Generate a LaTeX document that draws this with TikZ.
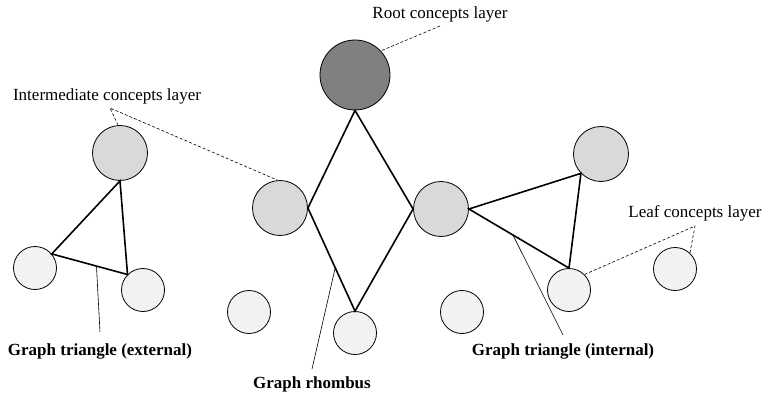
\documentclass[tikz,border=0pt]{standalone}
\usepackage{fontspec}
\setmainfont{Liberation Serif}
\usetikzlibrary{calc}
\definecolor{rootgray}{RGB}{128,128,128}
\definecolor{midgray}{RGB}{217,217,217}
\definecolor{leafgray}{RGB}{242,242,242}
\begin{document}
\begin{tikzpicture}[x=1pt,y=-1pt,
  concept/.style={circle,draw=black,line width=0.8pt,inner sep=0pt},
  rootc/.style={concept,fill=rootgray,minimum size=70pt},
  midc/.style={concept,fill=midgray,minimum size=55pt},
  leafc/.style={concept,fill=leafgray,minimum size=43pt},
  gedge/.style={line width=1.6pt},
  leader/.style={line width=0.6pt},
  guide/.style={line width=0.6pt,dash pattern=on 3pt off 2pt},
  lab/.style={font=\fontsize{17}{20}\selectfont,inner sep=0pt},
  blab/.style={font=\fontsize{17}{20}\selectfont\bfseries,inner sep=0pt}]
\useasboundingbox (0,0) rectangle (765,393);
% concept nodes
\node[rootc] (R) at (355,75) {};
\node[midc] (I1) at (120,153) {};
\node[midc] (I2) at (280,208) {};
\node[midc] (I3) at (441,209) {};
\node[midc] (I4) at (601,154) {};
\node[leafc] (L1) at (35,268) {};
\node[leafc] (L2) at (143,290) {};
\node[leafc] (L3) at (249,312) {};
\node[leafc] (L4) at (355,333) {};
\node[leafc] (L5) at (462,312) {};
\node[leafc] (L6) at (569,290) {};
\node[leafc] (L7) at (675,269) {};
% graph edges
\draw[gedge] (R.south) -- (I2.east) -- (L4.north) -- (I3.west) -- cycle;
\draw[gedge] (I1.south) -- (L1.40) -- (L2.135) -- cycle;
\draw[gedge] (I3.east) -- (I4.224) -- (L6.north) -- cycle;
% labels
\node[lab] (tRoot) at (440,14) {Root concepts layer};
\node[lab] (tInt) at (107,96) {Intermediate concepts layer};
\node[lab] (tLeaf) at (695,213) {Leaf concepts layer};
\node[blab] (tExt) at (100,351) {Graph triangle (external)};
\node[blab] (tRh) at (312,384) {Graph rhombus};
\node[blab] (tIn) at (563,351) {Graph triangle (internal)};
% guide coordinates
\coordinate (gRoot) at (440,26);
\coordinate (gInt) at (110,108);
\coordinate (gLeaf) at (695,226);
\coordinate (eExt) at (100,332);
\coordinate (eRh) at (312,369);
\coordinate (eIn) at (563,335);
% dashed guides
\draw[guide] (gRoot) -- (R.43);
\draw[guide] (I1.94) -- (gInt) -- (I2.95);
\draw[guide] (L7.47) -- (gLeaf) -- (L6.45);
% leaders
\draw[leader] ($(L1.40)!0.59!(L2.135)$) -- (eExt);
\draw[leader] ($(I2.east)!0.58!(L4.north)$) -- (eRh);
\draw[leader] ($(I3.east)!0.44!(L6.north)$) -- (eIn);
\end{tikzpicture}
\end{document}
